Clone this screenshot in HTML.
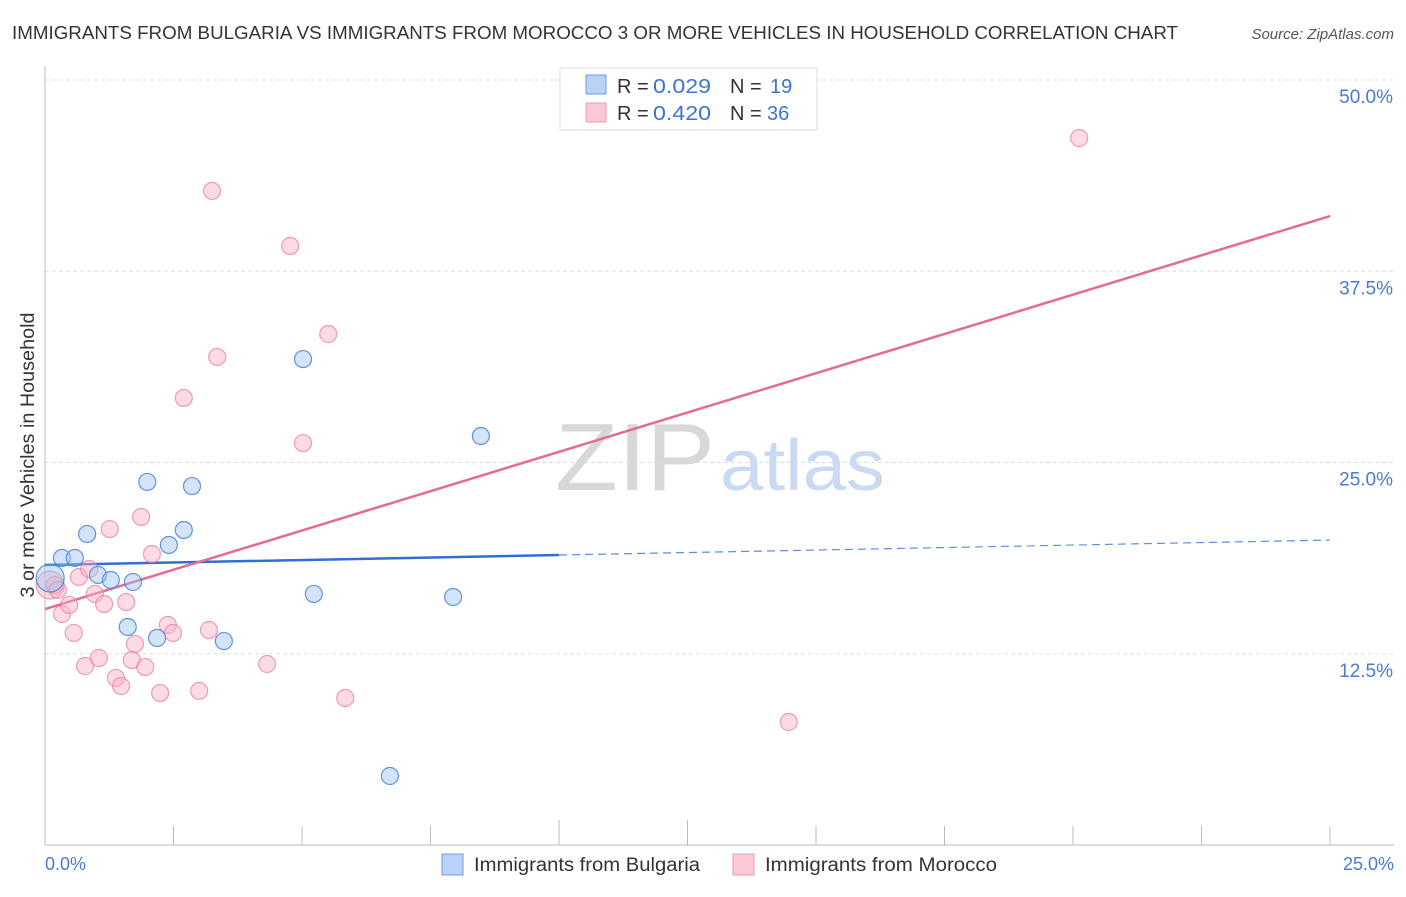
<!DOCTYPE html>
<html><head><meta charset="utf-8"><style>
body{margin:0;background:#fff;font-family:"Liberation Sans",sans-serif;}
svg text{font-family:"Liberation Sans",sans-serif;}
</style></head><body>
<svg id="chart" width="1406" height="892" viewBox="0 0 1406 892">
<text x="12" y="39" font-size="18" fill="#333" textLength="1166" lengthAdjust="spacingAndGlyphs">IMMIGRANTS FROM BULGARIA VS IMMIGRANTS FROM MOROCCO 3 OR MORE VEHICLES IN HOUSEHOLD CORRELATION CHART</text>
<text x="1394" y="39" font-size="15" fill="#555" font-style="italic" text-anchor="end">Source: ZipAtlas.com</text>
<text x="555" y="490" font-size="96" fill="#d8d8d8" textLength="160" lengthAdjust="spacingAndGlyphs" font-family="Liberation Serif">ZIP</text>
<text x="720" y="490" font-size="72" fill="#c9daf2" textLength="165" lengthAdjust="spacingAndGlyphs">atlas</text>
<g id="grid"></g>
<g id="axes"></g>
<g id="lines"></g>
<g id="points"></g>
<text transform="translate(34,455) rotate(-90)" font-size="19" fill="#333" text-anchor="middle" textLength="285" lengthAdjust="spacingAndGlyphs">3 or more Vehicles in Household</text>
<text x="45" y="870" font-size="18" fill="#4a7bd0">0.0%</text>
<text x="1394" y="870" font-size="18" fill="#4a7bd0" text-anchor="end">25.0%</text>
<g>
<rect x="560" y="68" width="257" height="62" fill="#fff" stroke="#ddd"/>
<rect x="586" y="75" width="20" height="19" fill="#b8d3f5" stroke="#6d9de0"/>
<rect x="586" y="103" width="20" height="19" fill="#fbc8d6" stroke="#ee9ab2"/>
<text x="617" y="93" font-size="20" fill="#333">R = <tspan x="653" fill="#3a74d4" textLength="58" lengthAdjust="spacingAndGlyphs">0.029</tspan><tspan x="730">N = </tspan><tspan x="770" fill="#3a74d4">19</tspan></text>
<text x="617" y="120" font-size="20" fill="#333">R = <tspan x="653" fill="#3a74d4" textLength="58" lengthAdjust="spacingAndGlyphs">0.420</tspan><tspan x="730">N = </tspan><tspan x="767" fill="#3a74d4">36</tspan></text>
</g>
<g>
<rect x="442" y="854" width="21" height="21" fill="#b8d3f5" stroke="#6d9de0"/>
<text x="474" y="871" font-size="19" fill="#333" textLength="226" lengthAdjust="spacingAndGlyphs">Immigrants from Bulgaria</text>
<rect x="733" y="854" width="21" height="21" fill="#fbc8d6" stroke="#ee9ab2"/>
<text x="765" y="871" font-size="19" fill="#333" textLength="232" lengthAdjust="spacingAndGlyphs">Immigrants from Morocco</text>
</g>
</svg>
<script>
const yTicks=[12.5,25,37.5,50];
const yTickLabels=["12.5%","25.0%","37.5%","50.0%"];
const bulgariaX=[0.33,0.58,0.82,1.03,1.28,1.71,1.61,2.18,1.99,2.41,2.70,2.86,3.48,5.02,5.23,6.71,7.94,8.48,0.10];
const bulgariaY=[18.76,18.76,20.33,17.65,17.32,17.19,14.25,13.53,23.73,19.61,20.59,23.46,13.33,31.76,16.41,4.51,16.21,26.73,17.45];
const moroccoX=[0.10,0.19,0.25,0.33,0.47,0.56,0.66,0.78,0.86,0.97,1.05,1.15,1.26,1.38,1.48,1.58,1.69,1.75,1.87,1.95,2.08,2.24,2.39,2.49,2.70,3.00,3.19,3.25,3.35,4.32,4.77,5.02,5.51,5.84,14.47,20.12];
const moroccoY=[16.99,16.99,16.67,15.10,15.69,13.86,17.52,11.70,18.04,16.41,12.22,15.75,20.65,10.92,10.39,15.88,12.09,13.14,21.44,11.63,19.02,9.93,14.38,13.86,29.22,10.07,14.05,42.75,31.90,11.83,39.15,26.27,33.40,9.61,8.04,46.21];
const bulgariaTrend=[18.30,19.93];
const moroccoTrend=[15.42,41.11];
const X0=45,X1=1330,Y0=845,Y1=80;
const sx=v=>X0+(X1-X0)*v/25;
const sy=v=>Y0-(Y0-Y1)*v/50;
const NS="http://www.w3.org/2000/svg";
function mk(tag,attrs,parent){const e=document.createElementNS(NS,tag);for(const k in attrs)e.setAttribute(k,attrs[k]);parent.appendChild(e);return e;}
const grid=document.getElementById('grid');
yTicks.forEach((t,i)=>{
  const l=mk('line',{x1:X0,x2:1394,y1:sy(t),y2:sy(t),stroke:'#ddd','stroke-dasharray':'4,3'},grid);
  
  
  const tx=mk('text',{x:1393,y:sy(t)+23,'font-size':19,fill:'#4a7bd0','text-anchor':'end'},grid);
  tx.textContent=yTickLabels[i];
  
  
});
const axes=document.getElementById('axes');
const ya=mk('line',{x1:X0,x2:X0,y1:66,y2:Y0,stroke:'#bbb'},axes);


const xa=mk('line',{x1:X0,x2:1394,y1:Y0,y2:Y0,stroke:'#bbb'},axes);


for(let i=1;i<=10;i++){
  const tk=mk('line',{x1:sx(i*2.5),x2:sx(i*2.5),y1:(i==4||i==5)?820:826,y2:Y0,stroke:'#bbb'},axes);
  
  
}
const lines=document.getElementById('lines');
const bx=10;
const b1=mk('line',{x1:sx(0),y1:sy(bulgariaTrend[0]),x2:sx(bx),y2:sy(bulgariaTrend[0]+(bulgariaTrend[1]-bulgariaTrend[0])*bx/25),stroke:'#2f6fd6','stroke-width':2.5},lines);


const b2=mk('line',{x1:sx(bx),y1:sy(bulgariaTrend[0]+(bulgariaTrend[1]-bulgariaTrend[0])*bx/25),x2:sx(25),y2:sy(bulgariaTrend[1]),stroke:'#5b8fdc','stroke-width':1.2,'stroke-dasharray':'8,5'},lines);


const m1=mk('line',{x1:sx(0),y1:sy(moroccoTrend[0]),x2:sx(25),y2:sy(moroccoTrend[1]),stroke:'#e66b93','stroke-width':2.5},lines);


const pts=document.getElementById('points');
function drawSeries(xs,ys,fill,stroke,name){
  xs.forEach((x,i)=>{
    const big=(i==xs.length-1&&name=='bulgaria-point')||(i==0&&name=='morocco-point');
    const c=mk('circle',{cx:sx(x),cy:sy(ys[i]),r:big?14:8.5,fill:fill,stroke:stroke,'stroke-width':1.2},pts);
    
    
  });
}
drawSeries(moroccoX,moroccoY,'rgba(248,175,198,0.45)','rgba(230,120,155,0.7)','morocco-point');
drawSeries(bulgariaX,bulgariaY,'rgba(160,195,240,0.45)','rgba(70,130,215,0.85)','bulgaria-point');
</script>
</body></html>
